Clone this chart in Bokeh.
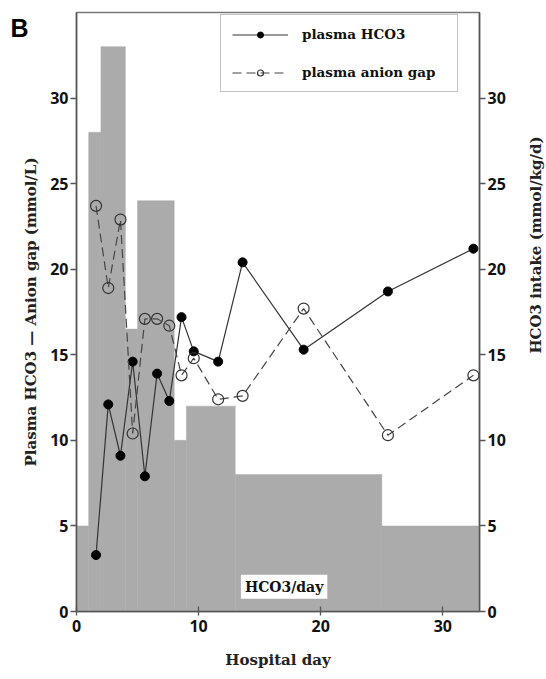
import math
from bokeh.plotting import figure
from bokeh.layouts import row
from bokeh.models import (Range1d, LinearAxis, FixedTicker, Legend, LegendItem, Label, Title)
from bokeh.embed import file_html
from bokeh.resources import INLINE

# ---- data ----
intake_left = [0, 1, 2, 4, 5, 8, 9, 13, 25]
intake_right = [1, 2, 4, 5, 8, 9, 13, 25, 33]
intake_value = [5, 28, 33, 16.5, 24, 10, 12, 8, 5]

days = [1.6, 2.6, 3.6, 4.6, 5.6, 6.6, 7.6, 8.6, 9.6, 11.6, 13.6, 18.6, 25.5, 32.5]
plasma_hco3 = [3.3, 12.1, 9.1, 14.6, 7.9, 13.9, 12.3, 17.2, 15.2, 14.6, 20.4, 15.3, 18.7, 21.2]
anion_gap = [23.7, 18.9, 22.9, 10.4, 17.1, 17.1, 16.7, 13.8, 14.8, 12.4, 12.6, 17.7, 10.3, 13.8]

x_ticks = [0, 10, 20, 30]
y_ticks = [0, 5, 10, 15, 20, 25, 30]

SERIF = "DejaVu Serif"
SANS = "Open Sans"
AXIS_COL = "#555555"

FRAME_W, FRAME_H = 403, 599
BORDER_L, BORDER_R, BORDER_T, BORDER_B = 76, 44, 12, 67
TOTAL_H = FRAME_H + BORDER_T + BORDER_B

p = figure(frame_width=FRAME_W, frame_height=FRAME_H, output_backend="svg", toolbar_location=None,
           x_range=Range1d(0, 33), y_range=Range1d(0, 35),
           min_border_left=BORDER_L, min_border_right=BORDER_R,
           min_border_top=BORDER_T, min_border_bottom=BORDER_B)
p.grid.visible = False
p.background_fill_color = "white"
p.border_fill_color = "white"
p.outline_line_color = "#777777"
p.outline_line_width = 1.5

p.extra_y_ranges = {"intake": Range1d(0, 35)}

p.quad(left=intake_left, right=intake_right, top=intake_value, bottom=0,
       fill_color="#ababab", line_color="#ababab", line_width=0.5, y_range_name="intake")

l1 = p.line(days, plasma_hco3, line_color="#333333", line_width=1.2)
s1 = p.scatter(days, plasma_hco3, size=9, fill_color="black", line_color="black")
l2 = p.line(days, anion_gap, line_color="#444444", line_width=1.2, line_dash="9 5")
s2 = p.scatter(days, anion_gap, size=11, fill_color=None, line_color="#333333", line_width=1.2)

def style_axis(ax):
    ax.axis_line_color = AXIS_COL
    ax.axis_line_width = 1.5
    ax.major_tick_line_color = AXIS_COL
    ax.major_tick_line_width = 1.3
    ax.minor_tick_line_color = None
    ax.major_label_text_font = SANS
    ax.major_label_text_font_style = "bold"
    ax.major_label_text_font_size = "16px"
    ax.major_label_text_color = "#111111"
    ax.axis_label_text_font = SERIF
    ax.axis_label_text_font_style = "bold"
    ax.axis_label_text_font_size = "15px"
    ax.axis_label_text_color = "#222222"

xa = p.xaxis[0]
style_axis(xa)
xa.ticker = FixedTicker(ticks=x_ticks)
xa.major_tick_in = 5
xa.major_tick_out = 4
xa.major_label_standoff = 4
xa.axis_label = "Hospital day"
xa.axis_label_standoff = 16

ya = p.yaxis[0]
style_axis(ya)
ya.ticker = FixedTicker(ticks=y_ticks)
ya.major_tick_in = 0
ya.major_tick_out = 6
ya.major_label_standoff = 2
ya.axis_label = "Plasma HCO3 \u2014 Anion gap (mmol/L)"
ya.axis_label_standoff = 7

ra = LinearAxis(y_range_name="intake")
style_axis(ra)
ra.ticker = FixedTicker(ticks=y_ticks)
ra.major_tick_in = 0
ra.major_tick_out = 6
ra.major_label_standoff = 2
p.add_layout(ra, "right")

legend = Legend(items=[LegendItem(label="plasma HCO3", renderers=[l1, s1]),
                       LegendItem(label="plasma anion gap", renderers=[l2, s2])],
                location=(144, 519))
legend.label_text_font = SERIF
legend.label_text_font_style = "bold"
legend.label_text_font_size = "13.5px"
legend.label_text_color = "#111111"
legend.border_line_color = "#888888"
legend.border_line_width = 1
legend.padding = 11
legend.spacing = 22
legend.glyph_width = 56
legend.glyph_height = 15
legend.label_height = 15
legend.label_width = 144
legend.label_standoff = 14
legend.background_fill_alpha = 1
p.add_layout(legend, "center")

p.add_layout(Label(x=17.0, y=1.45, text="HCO3/day", text_align="center", text_baseline="middle",
                   text_font=SERIF, text_font_style="bold", text_font_size="14px",
                   text_color="#111111", background_fill_color="white", padding=4))

panel_tag = Title(text="B", align="left", offset=-66, standoff=-58,
                  text_font="Liberation Sans", text_font_style="bold", text_font_size="25px",
                  text_color="black")
p.add_layout(panel_tag, "above")

# narrow strip to the right carrying the right-axis title (reads bottom-to-top)
STRIP_W = 23
strip = figure(width=STRIP_W, height=TOTAL_H, output_backend="svg", toolbar_location=None,
               x_axis_type=None, y_axis_type=None, min_border=0,
               x_range=Range1d(0, 1), y_range=Range1d(0, 1))
strip.grid.visible = False
strip.outline_line_color = None
strip.border_fill_color = "white"
strip.background_fill_color = "white"
strip.add_layout(Label(x=STRIP_W / 2 + 1, y=BORDER_B + FRAME_H / 2, x_units="screen", y_units="screen",
                       text="HCO3 intake (mmol/kg/d)", angle=math.pi / 2,
                       text_align="center", text_baseline="middle",
                       text_font=SERIF, text_font_style="bold", text_font_size="15px",
                       text_color="#222222"))

layout = row(p, strip, spacing=0)

open("out.html", "w").write(file_html(layout, INLINE))
